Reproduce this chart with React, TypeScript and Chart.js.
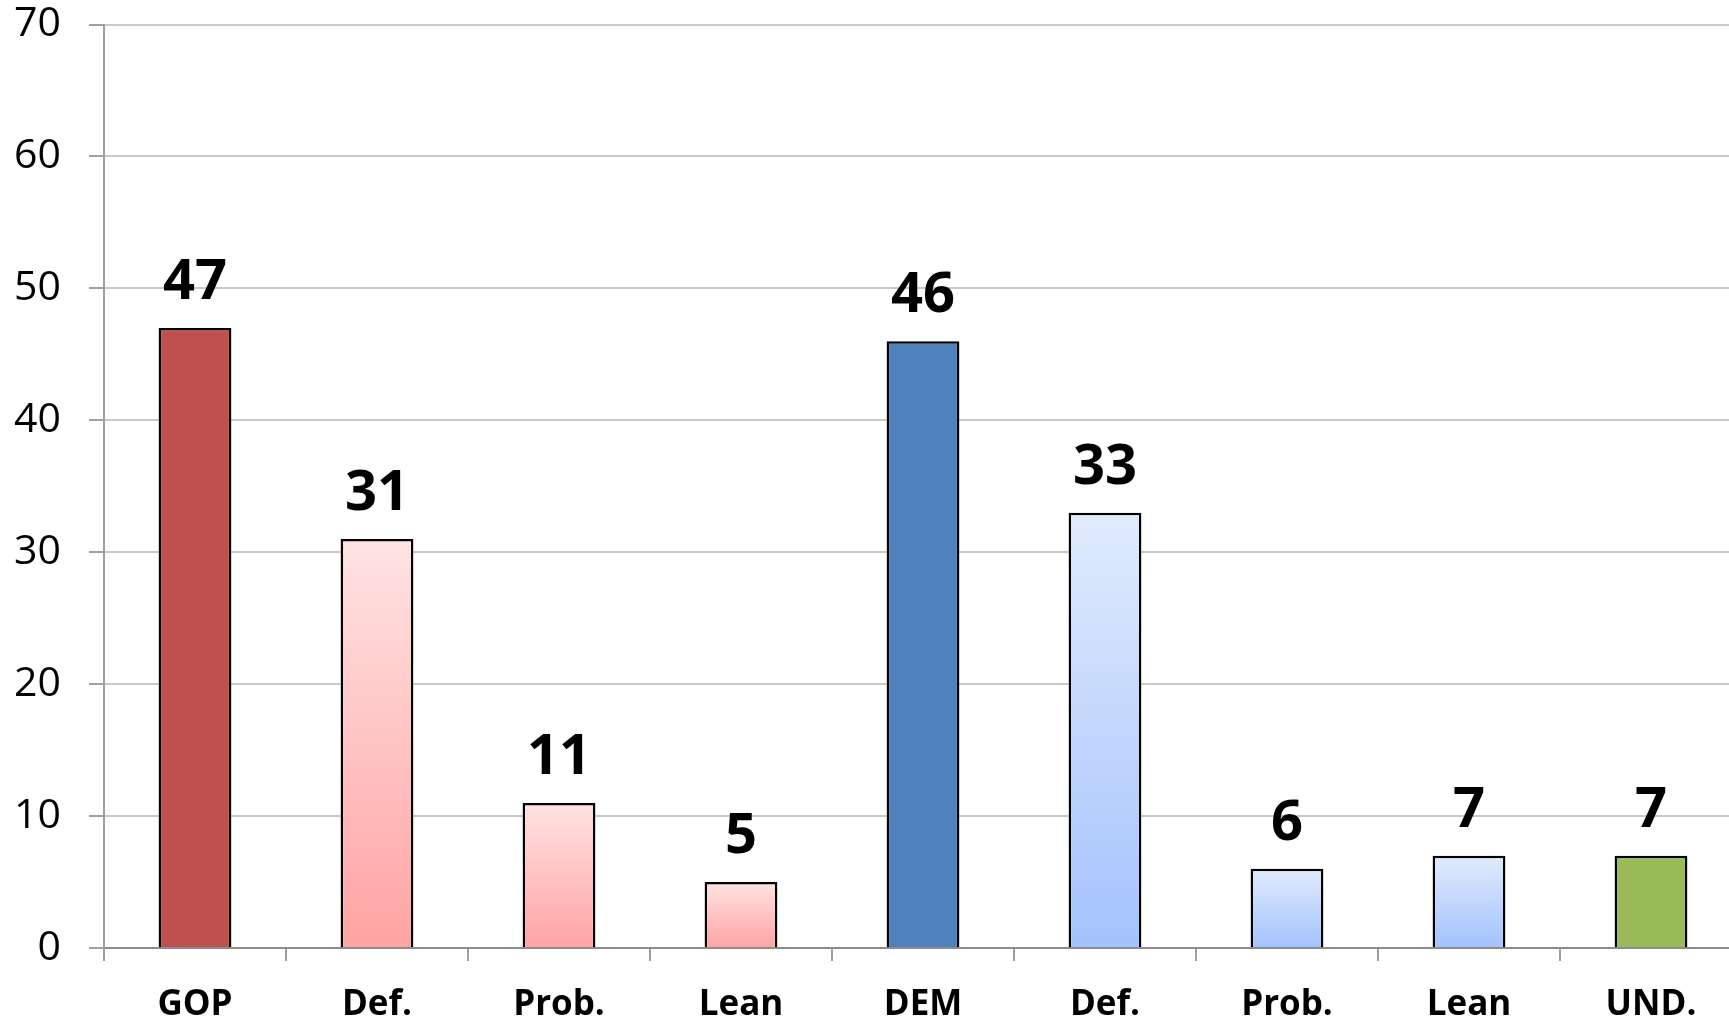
import React, { useEffect, useRef } from 'react';
import { Chart, registerables } from 'chart.js';

Chart.register(...registerables);

const categories = ['GOP', 'Def.', 'Prob.', 'Lean', 'DEM', 'Def.', 'Prob.', 'Lean', 'UND.'];
const values = [47, 31, 11, 5, 46, 33, 6, 7, 7];
const yMin = 0;
const yMax = 70;
const yStep = 10;

type BarStyle = { solid?: string; top?: string; bottom?: string };
const barStyles: BarStyle[] = [
  { solid: '#C0504D' },
  { top: '#FFE3E3', bottom: '#FFA3A3' },
  { top: '#FFE3E3', bottom: '#FFA3A3' },
  { top: '#FFE3E3', bottom: '#FFA3A3' },
  { solid: '#4F81BD' },
  { top: '#E1EBFD', bottom: '#A3C2FD' },
  { top: '#E1EBFD', bottom: '#A3C2FD' },
  { top: '#E1EBFD', bottom: '#A3C2FD' },
  { solid: '#9BBB59' },
];

const FONT = "'Open Sans', 'Noto Sans', sans-serif";

function barFill(c: any) {
  const i = c.dataIndex;
  if (i === undefined) return '#ccc';
  const st = barStyles[i];
  if (st.solid) return st.solid;
  const chart = c.chart;
  const y = chart.scales && chart.scales.y;
  if (!y || !chart.chartArea) return st.bottom;
  const top = y.getPixelForValue(values[i]);
  const bottom = y.getPixelForValue(0);
  const g = chart.ctx.createLinearGradient(0, top, 0, bottom);
  g.addColorStop(0, st.top!);
  g.addColorStop(1, st.bottom!);
  return g;
}

const valueLabels = {
  id: 'valueLabels',
  afterDatasetsDraw(chart: any) {
    const ctx = chart.ctx;
    const meta = chart.getDatasetMeta(0);
    ctx.save();
    ctx.font = `bold 56px ${FONT}`;
    ctx.fillStyle = '#000';
    ctx.textAlign = 'center';
    ctx.textBaseline = 'alphabetic';
    meta.data.forEach((bar: any, i: number) => {
      ctx.fillText(String(values[i]), bar.x, bar.y - 29);
    });
    ctx.restore();
  },
};

export default function App() {
  const ref = useRef<HTMLCanvasElement>(null);
  useEffect(() => {
    document.body.style.margin = '0';
    const canvas = ref.current!;
    const chart = new Chart(canvas, {
      type: 'bar',
      data: {
        labels: categories,
        datasets: [
          {
            data: values,
            backgroundColor: barFill as any,
            borderColor: '#000',
            borderWidth: 2.5,
            categoryPercentage: 1,
            barPercentage: 0.4,
          },
        ],
      },
      options: {
        responsive: false,
        animation: false,
        devicePixelRatio: 1,
        layout: { padding: 0 },
        plugins: {
          legend: { display: false },
          tooltip: { enabled: false },
          title: { display: false },
        },
        scales: {
          x: {
            offset: true,
            grid: {
              offset: true,
              drawOnChartArea: false,
              drawTicks: true,
              tickLength: 13,
              tickColor: '#a0a0a0',
              lineWidth: 2,
            },
            border: { color: '#8c8c8c', width: 2 },
            ticks: {
              color: '#000',
              font: { family: FONT, size: 35, weight: 'bold' },
              padding: 23,
              maxRotation: 0,
              autoSkip: false,
            },
            afterFit: (s: any) => {
              s.height = 72;
              s.paddingLeft = 0;
              s.paddingRight = 0;
            },
          },
          y: {
            min: yMin,
            max: yMax,
            ticks: {
              stepSize: yStep,
              padding: 28,
              color: '#000',
              font: { family: FONT, size: 41 },
            },
            grid: {
              color: '#c8c8c8',
              lineWidth: 2,
              tickLength: 15,
              tickColor: '#a0a0a0',
            },
            border: { color: '#a0a0a0', width: 2 },
            afterFit: (s: any) => {
              s.width = 104;
              s.paddingTop = 24.5;
              s.paddingBottom = 0;
            },
          },
        },
      },
      plugins: [valueLabels],
    });
    return () => chart.destroy();
  }, []);
  return (
    <div
      style={{
        position: 'fixed',
        left: 0,
        top: 0,
        width: 1729,
        height: 1020,
        overflow: 'hidden',
        background: '#fff',
      }}
    >
      <canvas ref={ref} width={1742} height={1020} style={{ display: 'block' }} />
    </div>
  );
}
